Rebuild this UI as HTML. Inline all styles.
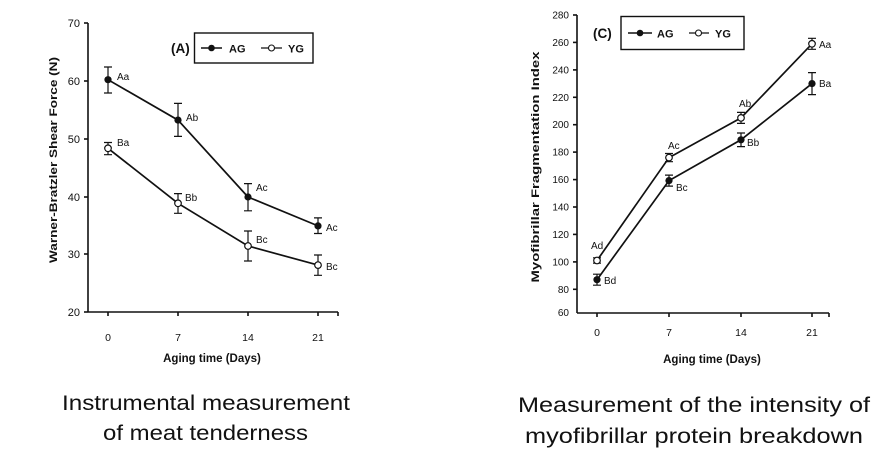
<!DOCTYPE html>
<html><head><meta charset="utf-8"><style>
html,body{margin:0;padding:0;background:#fff;}
svg{display:block;}
text{font-family:"Liberation Sans",Arial,sans-serif;fill:#111;}
</style></head><body>
<svg width="896" height="456" viewBox="0 0 896 456" xmlns="http://www.w3.org/2000/svg">
<rect width="896" height="456" fill="#fff"/>
<!-- LEFT CHART -->
<g stroke="#111" stroke-width="1.6" fill="none">
<line x1="88" y1="23" x2="88" y2="312"/>
<line x1="88" y1="312" x2="338" y2="312"/>
<line x1="84" y1="23" x2="88" y2="23"/><line x1="84" y1="81" x2="88" y2="81"/><line x1="84" y1="139" x2="88" y2="139"/><line x1="84" y1="197" x2="88" y2="197"/><line x1="84" y1="254" x2="88" y2="254"/><line x1="84" y1="312" x2="88" y2="312"/>
<line x1="108" y1="312" x2="108" y2="316"/><line x1="178" y1="312" x2="178" y2="316"/><line x1="248" y1="312" x2="248" y2="316"/><line x1="318" y1="312" x2="318" y2="316"/><line x1="338" y1="312" x2="338" y2="316"/>
</g>
<g font-size="11" text-anchor="end">
<text x="80" y="27">70</text><text x="80" y="85">60</text><text x="80" y="143">50</text><text x="80" y="201">40</text><text x="80" y="258">30</text><text x="80" y="316">20</text>
</g>
<g font-size="10.5" text-anchor="middle">
<text x="108" y="341">0</text><text x="178" y="341">7</text><text x="248" y="341">14</text><text x="318" y="341">21</text>
</g>
<text x="212" y="362" font-size="11.5" font-weight="bold" text-anchor="middle">Aging time (Days)</text>
<text transform="translate(57,160) rotate(-90)" font-size="11" font-weight="bold" text-anchor="middle" textLength="206" lengthAdjust="spacingAndGlyphs">Warner-Bratzler Shear Force (N)</text>
<!-- left series -->
<g stroke="#111" stroke-width="1.7" fill="none">
<polyline points="108,79.7 178,120.1 248,197 318,225.9"/>
<polyline points="108,148.3 178,203.3 248,246 318,265.1"/>
</g>
<g stroke="#111" stroke-width="1.2" fill="none">
<path d="M108,67 V93 M104,67 H112 M104,93 H112"/>
<path d="M178,103.4 V136.4 M174,103.4 H182 M174,136.4 H182"/>
<path d="M248,183.6 V210.8 M244,183.6 H252 M244,210.8 H252"/>
<path d="M318,217.9 V233.5 M314,217.9 H322 M314,233.5 H322"/>
<path d="M108,142.5 V154.7 M104,142.5 H112 M104,154.7 H112"/>
<path d="M178,193.6 V213.3 M174,193.6 H182 M174,213.3 H182"/>
<path d="M248,231 V261 M244,231 H252 M244,261 H252"/>
<path d="M318,255 V275.3 M314,255 H322 M314,275.3 H322"/>
</g>
<g fill="#111">
<circle cx="108" cy="79.7" r="3.6"/><circle cx="178" cy="120.1" r="3.6"/><circle cx="248" cy="197" r="3.6"/><circle cx="318" cy="225.9" r="3.6"/>
</g>
<g fill="#fff" stroke="#111" stroke-width="1.2">
<circle cx="108" cy="148.3" r="3.3"/><circle cx="178" cy="203.3" r="3.3"/><circle cx="248" cy="246" r="3.3"/><circle cx="318" cy="265.1" r="3.3"/>
</g>
<g font-size="10">
<text x="117" y="80">Aa</text><text x="186" y="121">Ab</text><text x="117" y="146">Ba</text><text x="185" y="201">Bb</text>
<text x="256" y="191">Ac</text><text x="326" y="231">Ac</text><text x="256" y="243">Bc</text><text x="326" y="270">Bc</text>
</g>
<!-- left legend -->
<text x="171" y="53" font-size="13.5" font-weight="bold">(A)</text>
<rect x="194.5" y="33" width="118.5" height="30" fill="none" stroke="#111" stroke-width="1.4"/>
<line x1="201" y1="48" x2="222" y2="48" stroke="#111" stroke-width="1.4"/>
<circle cx="211.5" cy="48" r="3.3" fill="#111"/>
<text x="229" y="52.5" font-size="11" font-weight="bold">AG</text>
<line x1="261" y1="48" x2="282" y2="48" stroke="#111" stroke-width="1.2"/>
<circle cx="271.5" cy="48" r="3" fill="#fff" stroke="#111" stroke-width="1.1"/>
<text x="288" y="52.5" font-size="11" font-weight="bold">YG</text>

<!-- RIGHT CHART -->
<g stroke="#111" stroke-width="1.6" fill="none">
<line x1="577" y1="15" x2="577" y2="313"/>
<line x1="577" y1="313" x2="829" y2="313"/>
<line x1="573" y1="15" x2="577" y2="15"/><line x1="573" y1="42.4" x2="577" y2="42.4"/><line x1="573" y1="69.9" x2="577" y2="69.9"/><line x1="573" y1="97.3" x2="577" y2="97.3"/><line x1="573" y1="124.7" x2="577" y2="124.7"/><line x1="573" y1="152.1" x2="577" y2="152.1"/><line x1="573" y1="179.6" x2="577" y2="179.6"/><line x1="573" y1="207" x2="577" y2="207"/><line x1="573" y1="234.4" x2="577" y2="234.4"/><line x1="573" y1="261.9" x2="577" y2="261.9"/><line x1="573" y1="289.3" x2="577" y2="289.3"/>
<line x1="597" y1="313" x2="597" y2="317"/><line x1="669" y1="313" x2="669" y2="317"/><line x1="741" y1="313" x2="741" y2="317"/><line x1="812" y1="313" x2="812" y2="317"/><line x1="829" y1="313" x2="829" y2="317"/>
</g>
<g font-size="10" text-anchor="end">
<text x="569" y="18.5">280</text><text x="569" y="46">260</text><text x="569" y="73.4">240</text><text x="569" y="100.8">220</text><text x="569" y="128.2">200</text><text x="569" y="155.6">180</text><text x="569" y="183.1">160</text><text x="569" y="210.5">140</text><text x="569" y="237.9">120</text><text x="569" y="265.4">100</text><text x="569" y="292.8">80</text><text x="569" y="316">60</text>
</g>
<g font-size="10.5" text-anchor="middle">
<text x="597" y="336">0</text><text x="669" y="336">7</text><text x="741" y="336">14</text><text x="812" y="336">21</text>
</g>
<text x="712" y="363" font-size="11.5" font-weight="bold" text-anchor="middle">Aging time (Days)</text>
<text transform="translate(539,167) rotate(-90)" font-size="11" font-weight="bold" text-anchor="middle" textLength="231" lengthAdjust="spacingAndGlyphs">Myofibrillar Fragmentation Index</text>
<g stroke="#111" stroke-width="1.7" fill="none">
<polyline points="597,260.5 669,157.6 741,117.9 812,43.8"/>
<polyline points="597,279.7 669,180.6 741,139.8 812,83.6"/>
</g>
<g stroke="#111" stroke-width="1.2" fill="none">
<path d="M597,257.8 V263.2 M593,257.8 H601 M593,263.2 H601"/>
<path d="M669,153.5 V161.7 M665,153.5 H673 M665,161.7 H673"/>
<path d="M741,112.4 V123.4 M737,112.4 H745 M737,123.4 H745"/>
<path d="M812,38.3 V49.3 M808,38.3 H816 M808,49.3 H816"/>
<path d="M597,274.2 V285.2 M593,274.2 H601 M593,285.2 H601"/>
<path d="M669,175.1 V186.1 M665,175.1 H673 M665,186.1 H673"/>
<path d="M741,133 V146.6 M737,133 H745 M737,146.6 H745"/>
<path d="M812,72.6 V94.6 M808,72.6 H816 M808,94.6 H816"/>
</g>
<g fill="#111">
<circle cx="597" cy="279.7" r="3.6"/><circle cx="669" cy="180.6" r="3.6"/><circle cx="741" cy="139.8" r="3.6"/><circle cx="812" cy="83.6" r="3.6"/>
</g>
<g fill="#fff" stroke="#111" stroke-width="1.2">
<circle cx="597" cy="260.5" r="3.3"/><circle cx="669" cy="157.6" r="3.3"/><circle cx="741" cy="117.9" r="3.3"/><circle cx="812" cy="43.8" r="3.3"/>
</g>
<g font-size="10">
<text x="591" y="249">Ad</text><text x="604" y="284">Bd</text><text x="676" y="191">Bc</text><text x="668" y="149">Ac</text>
<text x="739" y="107">Ab</text><text x="747" y="146">Bb</text><text x="819" y="48">Aa</text><text x="819" y="87">Ba</text>
</g>
<!-- right legend -->
<text x="593" y="38" font-size="13.5" font-weight="bold">(C)</text>
<rect x="621" y="16.5" width="123" height="33" fill="none" stroke="#111" stroke-width="1.4"/>
<line x1="628" y1="33" x2="652" y2="33" stroke="#111" stroke-width="1.4"/>
<circle cx="640" cy="33" r="3.3" fill="#111"/>
<text x="657" y="37.5" font-size="11" font-weight="bold">AG</text>
<line x1="689" y1="33" x2="709" y2="33" stroke="#111" stroke-width="1.2"/>
<circle cx="698.5" cy="33" r="3" fill="#fff" stroke="#111" stroke-width="1.1"/>
<text x="715" y="37.5" font-size="11" font-weight="bold">YG</text>

<!-- CAPTIONS -->
<g font-size="21">
<text x="62" y="410" textLength="288" lengthAdjust="spacingAndGlyphs">Instrumental measurement</text>
<text x="103" y="440" textLength="205" lengthAdjust="spacingAndGlyphs">of meat tenderness</text>
<text x="518" y="412" textLength="352" lengthAdjust="spacingAndGlyphs">Measurement of the intensity of</text>
<text x="525" y="443" textLength="338" lengthAdjust="spacingAndGlyphs">myofibrillar protein breakdown</text>
</g>
</svg>
</body></html>
